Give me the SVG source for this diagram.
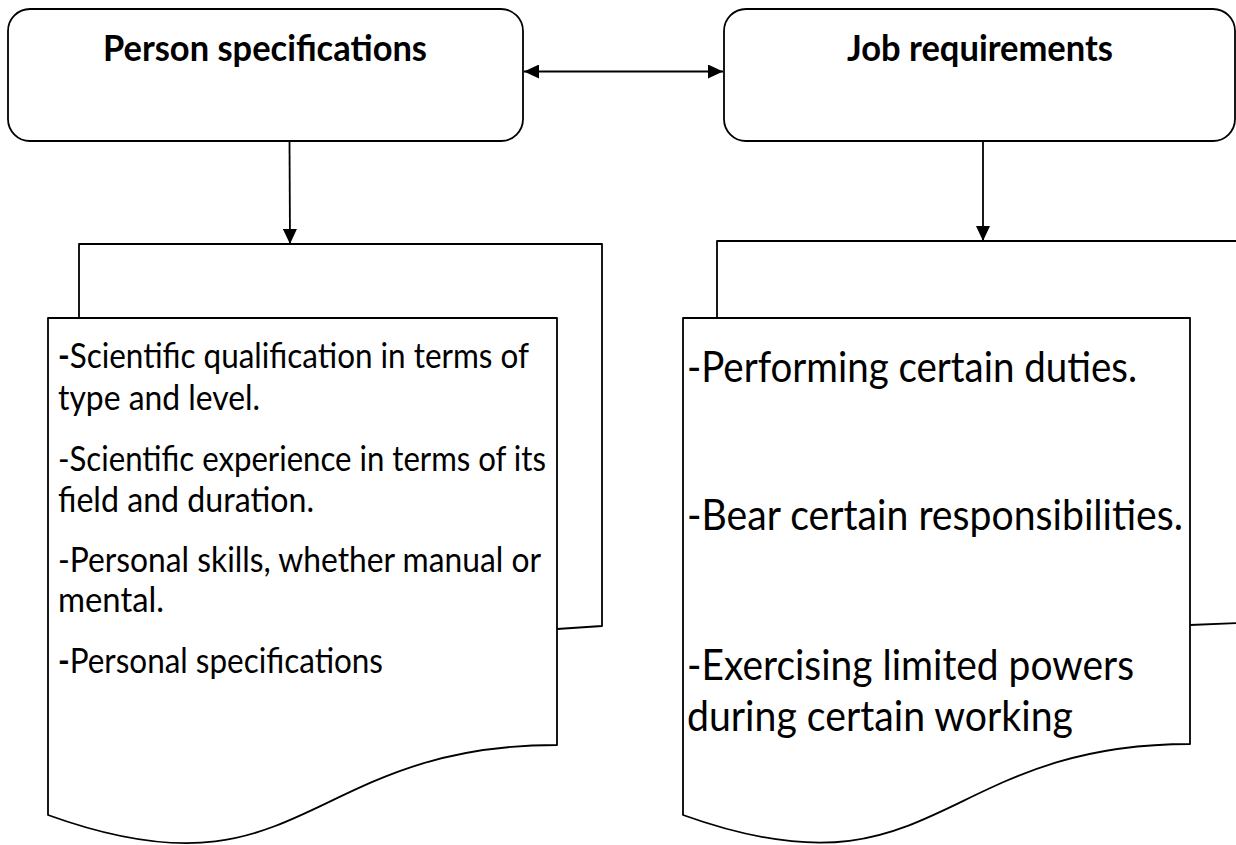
<svg xmlns="http://www.w3.org/2000/svg" width="1236" height="845" viewBox="0 0 1236 845">
<style>
.shape{fill:#fff;stroke:#000;stroke-width:1.8;stroke-linejoin:round}
.title{font-family:Lato,"Liberation Sans",sans-serif;font-weight:bold;font-size:36px;fill:#000}
.t1{font-family:Lato,"Liberation Sans",sans-serif;font-size:34px;fill:#000}
.t2{font-family:Lato,"Liberation Sans",sans-serif;font-size:42px;fill:#000}
.dash{font-weight:bold}
.conn{stroke:#000;stroke-width:1.8;fill:none}
</style>
<defs>
<marker id="ah" markerUnits="userSpaceOnUse" markerWidth="16" markerHeight="14" refX="15" refY="7" orient="auto-start-reverse">
<path d="M0,0 L15,7 L0,14 Z" fill="#000"/>
</marker>
</defs>
<rect width="1236" height="845" fill="#fff"/>
<g id="person-specifications">
<rect class="shape" x="8" y="9" width="515" height="132" rx="22" ry="22"/>
<text class="title" x="265" y="61" text-anchor="middle" textLength="324" lengthAdjust="spacingAndGlyphs">Person specifications</text>
</g>
<g id="job-requirements">
<rect class="shape" x="724" y="9" width="511" height="132" rx="22" ry="22"/>
<text class="title" x="980" y="61" text-anchor="middle" textLength="266" lengthAdjust="spacingAndGlyphs">Job requirements</text>
</g>
<g id="person-doc">
<path class="shape" d="M557,629 L602,626 V244 H79 V318"/>
<path class="shape" d="M48,318 H557 V745 C302.5,745 302.5,907 48,815 Z"/>
<text class="t1" x="58" y="368" textLength="471" lengthAdjust="spacingAndGlyphs"><tspan class="dash">-</tspan>Scientific qualification in terms of</text>
<text class="t1" x="58" y="410" textLength="202" lengthAdjust="spacingAndGlyphs">type and level.</text>
<text class="t1" x="58" y="471" textLength="488" lengthAdjust="spacingAndGlyphs">-Scientific experience in terms of its</text>
<text class="t1" x="58" y="512" textLength="256" lengthAdjust="spacingAndGlyphs">field and duration.</text>
<text class="t1" x="58" y="572" textLength="483" lengthAdjust="spacingAndGlyphs">-Personal skills, whether manual or</text>
<text class="t1" x="58" y="612" textLength="106" lengthAdjust="spacingAndGlyphs">mental.</text>
<text class="t1" x="58" y="673" textLength="325" lengthAdjust="spacingAndGlyphs"><tspan class="dash">-</tspan>Personal specifications</text>
</g>
<g id="job-doc">
<path class="shape" d="M1190,625 L1240,623 V241 H717 V318"/>
<path class="shape" d="M683,318 H1190 V744 C936.5,744 936.5,906 683,815 Z"/>
<text class="t2" x="687" y="382" textLength="450" lengthAdjust="spacingAndGlyphs">-Performing certain duties.</text>
<text class="t2" x="687" y="530" textLength="496" lengthAdjust="spacingAndGlyphs">-Bear certain responsibilities.</text>
<text class="t2" x="687" y="680" textLength="447" lengthAdjust="spacingAndGlyphs">-Exercising limited powers</text>
<text class="t2" x="687" y="731" textLength="386" lengthAdjust="spacingAndGlyphs">during certain working</text>
</g>
<g id="connectors">
<line class="conn" x1="524" y1="71.5" x2="723" y2="71.5" marker-start="url(#ah)" marker-end="url(#ah)"/>
<line class="conn" x1="289.5" y1="141" x2="290" y2="244" marker-end="url(#ah)"/>
<line class="conn" x1="983" y1="141" x2="983" y2="241" marker-end="url(#ah)"/>
</g>
</svg>
